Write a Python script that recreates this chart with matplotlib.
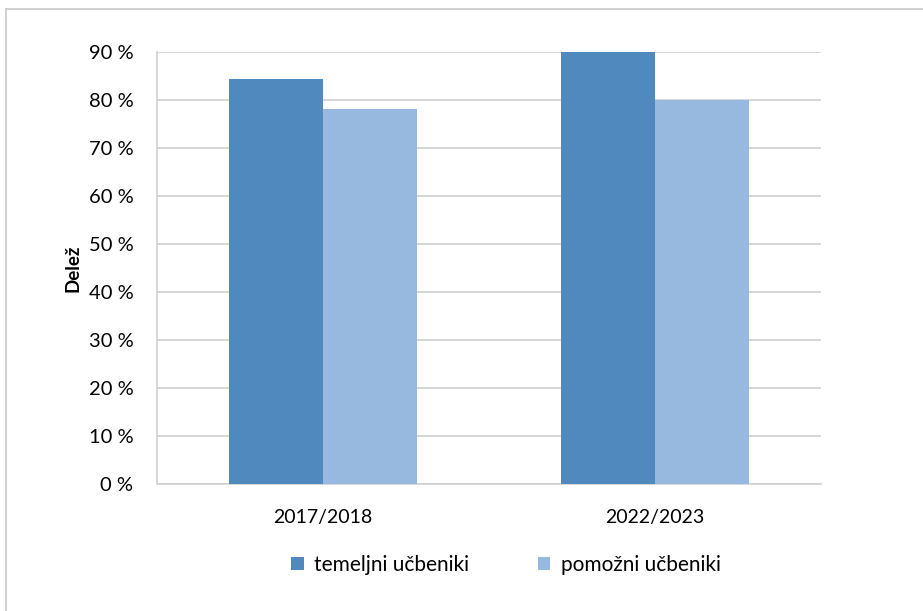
import numpy as np
import matplotlib.pyplot as plt
from matplotlib.lines import Line2D

# data
categories = ["2017/2018", "2022/2023"]
temeljni = [84.3, 90.1]
pomozni = [78.2, 79.9]
series_names = ["temeljni učbeniki", "pomožni učbeniki"]
yticks = [0, 10, 20, 30, 40, 50, 60, 70, 80, 90]
ytick_labels = [f"{v} %" for v in yticks]

c_dark = "#4f89bd"
c_light = "#98b9df"
grid_c = "#d0d0d0"

plt.rcParams["font.family"] = ["Lato", "DejaVu Sans"]

fig = plt.figure(figsize=(9.23, 6.11), dpi=100)
ax = fig.add_axes([157 / 923, 1 - 484 / 611, 664 / 923, 432 / 611])

x = np.arange(len(categories))
w = 0.283
b1 = ax.bar(x - w / 2, temeljni, w, color=c_dark, label=series_names[0], zorder=3)
b2 = ax.bar(x + w / 2, pomozni, w, color=c_light, label=series_names[1], zorder=3)

ax.set_xlim(-0.5, 1.5)
ax.set_ylim(0, 90)
ax.set_yticks(yticks)
ax.set_yticklabels(ytick_labels, fontsize=14.5)
ax.set_xticks(x)
ax.set_xticklabels(categories, fontsize=14)
ax.tick_params(axis="y", length=0, pad=17)
ax.tick_params(axis="x", length=0, pad=18)
ax.yaxis.grid(True, color=grid_c, linewidth=1.2, zorder=0)

for s in ["top", "right"]:
    ax.spines[s].set_visible(False)
for s in ["left", "bottom"]:
    ax.spines[s].set_color(grid_c)
    ax.spines[s].set_linewidth(1.2)

ax.set_ylabel("Delež", fontsize=13.5, fontweight="bold")
ax.yaxis.set_label_coords(-75 / 664, 0.5)

leg = fig.legend(handles=[b1, b2], labels=series_names, loc="center",
                 bbox_to_anchor=(506 / 923, 1 - 565 / 611), ncol=2, frameon=False,
                 fontsize=15, handlelength=0.6, handleheight=0.6,
                 handletextpad=0.5, columnspacing=3.3)

# outer chart frame (top and left edges visible)
fig.add_artist(Line2D([6 / 923, 1], [1 - 9 / 611, 1 - 9 / 611], color="#c8c8c8", lw=1.2))
fig.add_artist(Line2D([6 / 923, 6 / 923], [0, 1 - 9 / 611], color="#c8c8c8", lw=1.2))

fig.savefig("out.png", dpi=100)
